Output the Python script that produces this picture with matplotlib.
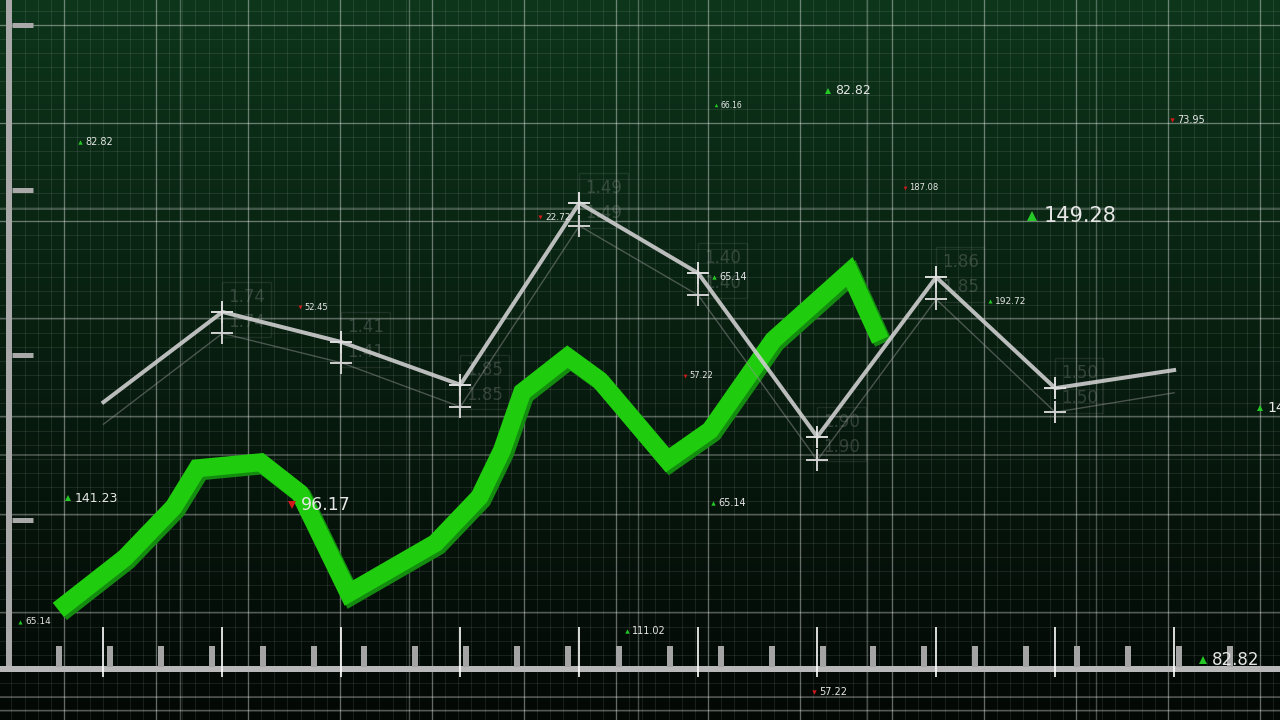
import numpy as np
import matplotlib.pyplot as plt
from matplotlib.transforms import offset_copy

# white price line, one point every 10 ticks
t_main = [0, 10, 20, 30, 40, 50, 60, 70, 80, 90]
price_main = [39.8, 53.3, 48.8, 42.4, 69.6, 59.1, 34.6, 58.5, 41.9, 44.6]
price_prev = [36.5, 50.1, 45.7, 39.1, 66.2, 55.8, 31.1, 55.2, 38.3, 41.2]
tag_upper = ['', '1.74', '1.41', '1.85', '1.49', '1.40', '1.90', '1.86', '1.50', '']
tag_lower = ['', '1.74', '1.41', '1.85', '1.49', '1.40', '1.90', '1.85', '1.50', '']

# green trend band
t_trend = [-3.8, 1.8, 5.9, 7.9, 13.2, 16.5, 20.6, 27.9, 31.6, 33.5, 35.2, 39.0,
           41.7, 47.4, 51.0, 56.3, 62.7, 65.3]
price_trend = [8.7, 16.5, 24.1, 29.9, 30.8, 26.2, 11.2, 18.7, 25.6, 32.6, 41.3, 46.6,
               43.1, 31.1, 35.6, 49.1, 59.3, 49.1]

# floating quotes
quote_text = ['82.82', '66.16', '82.82', '73.95', '187.08', '149.28', '22.72', '52.45',
              '65.14', '57.22', '192.72', '149.28', '141.23', '96.17', '65.14', '65.14',
              '111.02', '57.22', '82.82']
quote_up = [True, True, True, False, False, True, False, False, True, False,
            True, True, True, False, True, True, True, False, True]

# layout of the quotes (screen pixels) and their font sizes
quote_xy = [(80, 142), (716, 105), (828, 91), (1172, 120), (905, 188), (1032, 216),
            (540, 217), (300, 307), (714, 277), (685, 376), (990, 301), (1260, 408),
            (68, 498), (292, 505), (713, 503), (20, 622), (627, 631), (814, 692),
            (1203, 660)]
quote_size = [7, 5.5, 9, 7, 6, 15, 6.5, 6, 7, 6, 6.5, 10, 9, 12.5, 7, 6.5, 7, 7, 12]

W, H = 1280, 720
PX = 0.72  # points per pixel at dpi 100
plt.rcParams['font.family'] = ['DejaVu Sans']

fig = plt.figure(figsize=(12.8, 7.2), dpi=100)

# --- decoration layer in pixel space ---
deco = fig.add_axes([0, 0, 1, 1], zorder=0)
deco.set_xlim(0, W)
deco.set_ylim(H, 0)
deco.axis('off')

top = np.array([13, 54, 27]) / 255
bot = np.array([3, 8, 5]) / 255
f = np.linspace(0, 1, H)[:, None] ** 0.9
grad = (top * (1 - f) + bot * f)[:, None, :]
deco.imshow(grad, extent=[0, W, H, 0], aspect='auto', zorder=0)

for x in np.arange(64 - 13.143 * 5, W, 13.143):
    deco.axvline(x, color='white', alpha=0.09, lw=0.8, zorder=1)
for y in np.arange(25 - 14 * 2, H, 14):
    deco.axhline(y, color='white', alpha=0.09, lw=0.8, zorder=1)
for x in np.arange(64, W, 92):
    deco.axvline(x, color='white', alpha=0.33, lw=1.0, zorder=1)
for x in [180, 409, 638, 867, 1096]:
    deco.axvline(x, color='white', alpha=0.28, lw=1.0, zorder=1)
for y in [25, 123, 221, 318, 416, 514, 612, 710]:
    deco.axhline(y, color='white', alpha=0.33, lw=1.0, zorder=1)
for y in [209, 455, 697]:
    deco.axhline(y, color='white', alpha=0.28, lw=1.2, zorder=1)

axis_col = '#a9a9a9'
deco.plot([9, 9], [0, 668], color=axis_col, lw=6 * PX, solid_capstyle='butt', zorder=2)
for y in [25, 190, 355, 520]:
    deco.plot([12, 33], [y, y], color=axis_col, lw=5 * PX, solid_capstyle='butt', zorder=2)
deco.plot([0, W], [669, 669], color='#b8b8b8', lw=6 * PX, solid_capstyle='butt', zorder=2)
deco.vlines(np.arange(59, W, 50.9), 646, 667, color='#a4a4a4', lw=6 * PX, zorder=2)

# --- data layer ---
ax = fig.add_axes([0, 0, 1, 1], zorder=1)
ax.set_facecolor('none')
ax.set_xlim(-8.7, 98.9)
ax.set_ylim(-7.78, 100)
ax.axis('off')

ax.vlines(t_main, -1.35, 6.14, color='white', lw=1.2, zorder=3)

shade = offset_copy(ax.transData, fig=fig, x=3, y=-3, units='dots')
ax.plot(t_trend, price_trend, color='#138c10', lw=18 * PX, solid_joinstyle='miter',
        solid_capstyle='butt', transform=shade, zorder=4)
ax.plot(t_trend, price_trend, color='#1fcc0e', lw=18 * PX, solid_joinstyle='miter',
        solid_capstyle='butt', zorder=5)

ax.plot(t_main, price_prev, color='#9a9a9a', lw=1.0, alpha=0.45, zorder=6)
ax.plot(t_main[1:-1], price_prev[1:-1], '+', ms=16, mew=1.4, color='#d0d0d0', zorder=7)
ax.plot(t_main, price_main, color='#cfcfcf', lw=4 * PX, alpha=0.9, zorder=8)
ax.plot(t_main[1:-1], price_main[1:-1], '+', ms=16, mew=1.4, color='#dedede', zorder=9)

for t, p, a, b in zip(t_main, price_main, tag_upper, tag_lower):
    if a:
        ax.annotate(a + '\n' + b, (t, p), xytext=(4, 2), textcoords='offset points',
                    va='center', ha='left', fontsize=12, linespacing=1.5,
                    color=(0.65, 0.65, 0.65, 0.28), zorder=6,
                    bbox=dict(boxstyle='square,pad=0.35', fc='none',
                              ec=(0.7, 0.7, 0.7, 0.13), lw=1.0))

for (x, y), s, up, txt in zip(quote_xy, quote_size, quote_up, quote_text):
    ax.plot(x, y, marker='^' if up else 'v', ms=s * 0.45, mew=0,
            color='#25c925' if up else '#d01a1a', transform=deco.transData, zorder=10)
    ax.text(x + 0.75 * s, y, txt, fontsize=s, color='#e6e6e6', va='center', ha='left',
            transform=deco.transData, zorder=10)

fig.savefig('out.png', dpi=100)
